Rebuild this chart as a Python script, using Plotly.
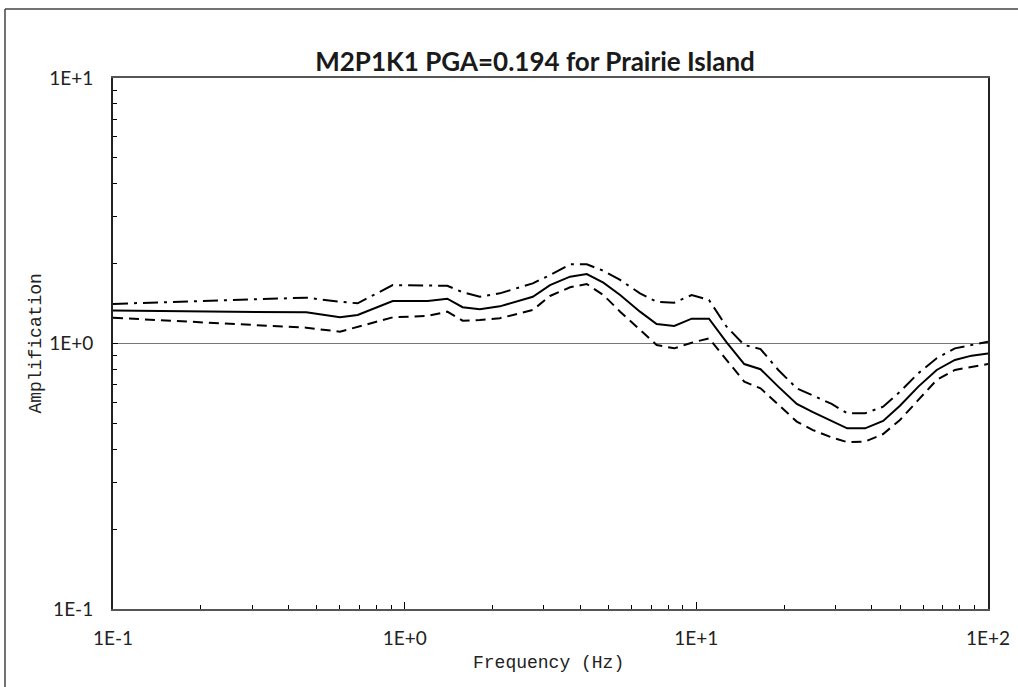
import plotly.graph_objects as go

# ---- data ----
freq = [0.1, 0.46, 0.60, 0.69, 0.91, 1.2, 1.4, 1.58, 1.81, 2.12, 2.75, 3.15,
        3.69, 4.21, 4.80, 5.48, 6.41, 7.31, 8.40, 9.64, 11.05, 12.7, 14.6, 16.6,
        19.1, 22.1, 25.1, 29.1, 32.9, 37.9, 43.7, 49.9, 57.7, 66.7, 77.0, 87.9, 100]

median = [1.33, 1.31, 1.255, 1.28, 1.445, 1.445, 1.475, 1.37, 1.345, 1.38, 1.50, 1.66,
          1.785, 1.827, 1.694, 1.523, 1.318, 1.184, 1.164, 1.24, 1.24, 1.01, 0.837, 0.80,
          0.688, 0.592, 0.551, 0.511, 0.479, 0.479, 0.511, 0.583, 0.688, 0.795, 0.867, 0.90, 0.918]

upper = [1.41, 1.488, 1.436, 1.417, 1.66, 1.66, 1.65, 1.56, 1.50, 1.545, 1.685, 1.81,
         1.987, 1.987, 1.88, 1.735, 1.545, 1.436, 1.425, 1.523, 1.458, 1.157, 0.987, 0.953,
         0.795, 0.678, 0.636, 0.592, 0.546, 0.546, 0.578, 0.658, 0.773, 0.88, 0.959, 0.987, 1.016]

lower = [1.25, 1.147, 1.108, 1.157, 1.255, 1.27, 1.318, 1.219, 1.225, 1.245, 1.337, 1.51,
         1.628, 1.675, 1.523, 1.318, 1.124, 0.987, 0.959, 1.007, 1.046, 0.867, 0.718, 0.678,
         0.587, 0.508, 0.472, 0.443, 0.425, 0.427, 0.456, 0.515, 0.613, 0.729, 0.795, 0.818, 0.837]

x_tickvals = [0.1, 1, 10, 100]
x_ticktext = ["1E-1", "1E+0", "1E+1", "1E+2"]
y_tickvals = [0.1, 1, 10]
y_ticktext = ["1E-1", "1E+0", "1E+1"]
minor_vals = [m * 10 ** e for e in (-1, 0, 1) for m in range(2, 10)]

title_text = "M2P1K1 PGA=0.194 for Prairie Island"
x_title = "Frequency (Hz)"
y_title = "Amplification"

W, H = 1018, 687
L, R, T, B = 113, 30, 78, 78

fig = go.Figure()
fig.add_trace(go.Scatter(x=freq, y=upper, mode="lines",
                         line=dict(color="black", width=2, dash="15px,6px,3px,6px")))
fig.add_trace(go.Scatter(x=freq, y=median, mode="lines",
                         line=dict(color="black", width=2)))
fig.add_trace(go.Scatter(x=freq, y=lower, mode="lines",
                         line=dict(color="black", width=2, dash="10px,6px")))

tick_font = dict(family="Lato", size=19, color="#222")

fig.update_xaxes(type="log", range=[-1, 2], tickvals=x_tickvals, ticktext=x_ticktext,
                 ticks="inside", ticklen=7, tickcolor="black", tickwidth=1,
                 minor=dict(tickvals=minor_vals, ticks="inside", ticklen=4,
                            tickcolor="black", showgrid=False),
                 showline=True, linecolor="#555", linewidth=2, mirror=True,
                 showgrid=False, zeroline=False, tickfont=tick_font,
                 ticklabelstandoff=11)
fig.update_yaxes(type="log", range=[-1, 1], tickvals=y_tickvals, ticktext=y_ticktext,
                 ticks="inside", ticklen=5, tickcolor="black", tickwidth=1,
                 minor=dict(tickvals=minor_vals, ticks="inside", ticklen=4,
                            tickcolor="black", showgrid=False),
                 showline=True, linecolor="#222", linewidth=2, mirror=True,
                 showgrid=True, gridcolor="#777", gridwidth=1, zeroline=False,
                 tickfont=tick_font, ticklabelstandoff=14)

pw = W - L - R
ph = H - T - B
fig.update_layout(
    width=W, height=H,
    margin=dict(l=L, r=R, t=T, b=B, autoexpand=False),
    paper_bgcolor="white", plot_bgcolor="white",
    showlegend=False,
    title=dict(text="<b>" + title_text + "</b>", x=535 / W, xref="container",
               xanchor="center", y=1 - 62 / H, yref="container", yanchor="middle",
               font=dict(family="Lato", size=26, color="#1a1a1a")),
    annotations=[
        dict(text=x_title, xref="paper", yref="paper", x=0.5 - 2 / pw, y=0,
             yshift=-54, xanchor="center", yanchor="middle", showarrow=False,
             font=dict(family="Liberation Mono, DejaVu Sans Mono, monospace", size=18, color="#222")),
        dict(text=y_title, xref="paper", yref="paper", x=0, y=0.5, xshift=-(L - 35),
             xanchor="center", yanchor="middle", textangle=-90, showarrow=False,
             font=dict(family="Liberation Mono, DejaVu Sans Mono, monospace", size=18, color="#222")),
    ],
    shapes=[
        dict(type="line", xref="paper", yref="paper",
             x0=(5 - L) / pw, x1=(W + 5 - L) / pw, y0=(H - B - 9) / ph, y1=(H - B - 9) / ph,
             line=dict(color="#444", width=1.5)),
        dict(type="line", xref="paper", yref="paper",
             x0=(5 - L) / pw, x1=(5 - L) / pw, y0=(H - B - 9) / ph, y1=-(B + 5) / ph,
             line=dict(color="#444", width=1.5)),
    ],
)

fig.write_html("out.html")
